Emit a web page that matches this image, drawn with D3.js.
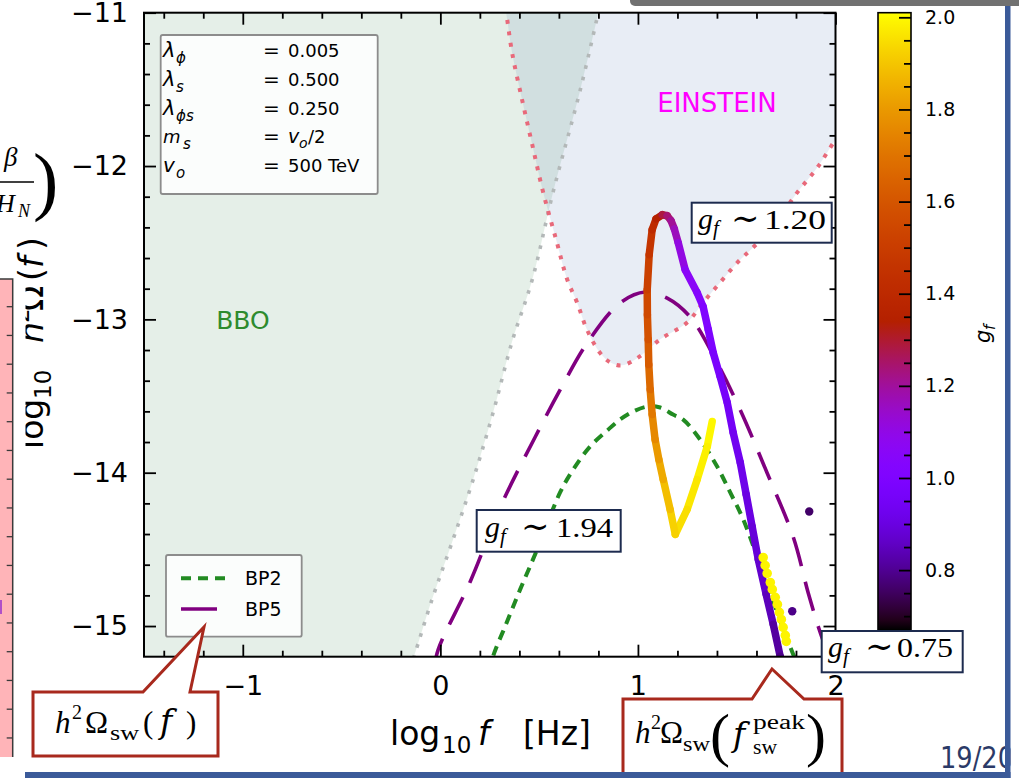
<!DOCTYPE html>
<html>
<head>
<meta charset="utf-8">
<script src="https://cdn.jsdelivr.net/npm/d3@7"></script>
<style>
  html, body { margin: 0; padding: 0; background: #ffffff; }
  svg { display: block; }
</style>
</head>
<body>
<svg id="chart" width="1019" height="778"></svg>
<script>
// ---------------- data ----------------
const xTickValues = [-1, 0, 1, 2];
const yTickValues = [-15, -14, -13, -12, -11];
const gfTickValues = [0.8, 1.0, 1.2, 1.4, 1.6, 1.8, 2.0];

// BBO sensitivity boundary (log10 f, log10 h^2 Omega)
const bboLogF     = [0.815, 0.799, 0.708, 0.571, 0.465, 0.363, 0.267, 0.166, 0.059, -0.042, -0.133, -0.16];
const bboLogOmega = [-10.9, -11.0, -11.504, -12.168, -12.741, -13.145, -13.608, -14.045, -14.455, -14.826, -15.197, -15.3];

// Einstein Telescope sensitivity boundary
const etLogF     = [0.318, 0.333, 0.363, 0.414, 0.465, 0.520, 0.586, 0.642, 0.692, 0.743, 0.809, 0.859, 0.920, 1.011, 1.113, 1.249, 1.330, 1.416, 1.503, 1.584, 1.685, 1.796, 1.908, 1.999, 2.03];
const etLogOmega = [-10.9, -11.0, -11.26, -11.57, -11.86, -12.17, -12.48, -12.74, -12.89, -13.07, -13.22, -13.28, -13.30, -13.24, -13.13, -13.02, -12.89, -12.76, -12.63, -12.53, -12.40, -12.19, -12.01, -11.83, -11.78];

// sound-wave spectra of the benchmark points
const bp2LogF     = [0.25, 0.267, 0.328, 0.404, 0.490, 0.606, 0.672, 0.758, 0.844, 0.910, 0.976, 1.047, 1.113, 1.178, 1.229, 1.315, 1.401, 1.467, 1.533, 1.644, 1.756, 1.806];
const bp2LogOmega = [-15.3, -15.197, -15.002, -14.761, -14.501, -14.129, -13.980, -13.829, -13.725, -13.653, -13.601, -13.569, -13.575, -13.621, -13.654, -13.784, -13.960, -14.129, -14.305, -14.696, -15.087, -15.25];
const bp5LogF     = [-0.03, -0.011, 0.151, 0.313, 0.480, 0.606, 0.743, 0.910, 1.037, 1.148, 1.265, 1.402, 1.518, 1.654, 1.786, 1.862, 1.923, 1.973, 2.02];
const bp5LogOmega = [-15.27, -15.154, -14.711, -14.197, -13.767, -13.460, -13.154, -12.893, -12.822, -12.861, -12.985, -13.285, -13.591, -14.002, -14.419, -14.784, -15.044, -15.22, -15.4];

// peak amplitude of the sound-wave signal along the g_f scan
const peakLogF = [1.376, 1.351, 1.300, 1.249, 1.189, 1.163, 1.128, 1.106, 1.087, 1.072, 1.062, 1.055, 1.052, 1.048, 1.047, 1.057, 1.072, 1.092, 1.123, 1.148, 1.168, 1.184, 1.204, 1.239, 1.300, 1.330, 1.356, 1.381, 1.416, 1.452, 1.482, 1.518, 1.548, 1.578, 1.609, 1.649, 1.685, 1.720, 1.741];
const peakLogOmega = [-13.666, -13.829, -14.044, -14.240, -14.402, -14.240, -14.044, -13.915, -13.784, -13.620, -13.458, -13.295, -13.132, -12.970, -12.807, -12.578, -12.416, -12.344, -12.318, -12.324, -12.357, -12.409, -12.500, -12.676, -12.826, -12.917, -13.067, -13.217, -13.373, -13.543, -13.738, -13.934, -14.142, -14.351, -14.565, -14.793, -14.989, -15.197, -15.31];
const peakGf = [2.00, 1.99, 1.975, 1.96, 1.94, 1.91, 1.86, 1.82, 1.78, 1.735, 1.69, 1.645, 1.60, 1.57, 1.54, 1.49, 1.44, 1.38, 1.31, 1.26, 1.22, 1.19, 1.14, 1.08, 1.04, 1.02, 1.00, 0.985, 0.97, 0.955, 0.94, 0.925, 0.91, 0.895, 0.88, 0.86, 0.83, 0.80, 0.78];

// isolated scan points
const dotLogF     = [1.634, 1.644, 1.654, 1.670, 1.680, 1.695, 1.706, 1.716, 1.726, 1.735, 1.746, 1.751, 1.867, 1.781];
const dotLogOmega = [-14.553, -14.605, -14.657, -14.716, -14.761, -14.813, -14.859, -14.911, -14.957, -15.009, -15.061, -15.100, -14.253, -14.904];
const dotGf       = [1.99, 1.99, 1.99, 1.99, 1.99, 1.99, 1.99, 1.99, 1.99, 1.99, 1.99, 1.99, 0.76, 0.79];

const legendNames = ["BP2", "BP5"];
const paramSymbols = ["λ", "λ", "λ", "m", "v"];
const paramSubs = ["ϕ", "s", "ϕs", "s", "o"];
const paramValues = ["0.005", "0.500", "0.250", "v_o/2", "500 TeV"];
const gfMarks = [{ v: "1.20" }, { v: "1.94" }, { v: "0.75" }];

// ---------------- setup ----------------
const SANS = "DejaVu Sans, sans-serif";
const SERIF = "Liberation Serif, DejaVu Serif, serif";
const svg = d3.select("#chart");
svg.append("rect").attr("width", 1019).attr("height", 778).attr("fill", "#fff");

const x = d3.scaleLinear().domain([-1.5, 2.0]).range([144, 835.5]);
const y = d3.scaleLinear().domain([-15.2, -11.0]).range([656.7, 12.7]);
const gfNorm = d3.scaleLinear().domain([0.67, 2.01]).range([0, 1]).clamp(true);

// matplotlib "gnuplot" colormap
function gnuplot(t) {
  t = Math.max(0, Math.min(1, t));
  return d3.rgb(255 * Math.sqrt(t), 255 * t * t * t, 255 * Math.max(0, Math.sin(2 * Math.PI * t))).formatHex();
}
const gfColor = g => gnuplot(gfNorm(g));

const defs = svg.append("defs");
defs.append("clipPath").attr("id", "plotClip")
  .append("rect").attr("x", 144).attr("y", 12.7).attr("width", 691.5).attr("height", 644);

const zip = (a, b) => a.map((v, i) => [v, b[i]]);
const line = d3.line().x(d => x(d[0])).y(d => y(d[1])).curve(d3.curveCatmullRom.alpha(0.5));

// ---------------- plot area ----------------
const plot = svg.append("g").attr("clip-path", "url(#plotClip)");

// detector regions
const bboPts = zip(bboLogF, bboLogOmega);
plot.append("path")
  .attr("d", line([[-1.6, -10.9], ...bboPts, [-1.6, -15.3]]) + "Z")
  .attr("fill", "rgb(39,122,63)").attr("fill-opacity", 0.12);
const etPts = zip(etLogF, etLogOmega);
plot.append("path")
  .attr("d", line(etPts) + "L" + x(2.03) + "," + y(-10.9) + "Z")
  .attr("fill", "rgb(63,105,172)").attr("fill-opacity", 0.12);

plot.append("path").attr("d", line(bboPts))
  .attr("fill", "none").attr("stroke", "#b3b8b8").attr("stroke-width", 3.6)
  .attr("stroke-dasharray", "3.6 8");
plot.append("path").attr("d", line(etPts))
  .attr("fill", "none").attr("stroke", "#e8697a").attr("stroke-width", 4)
  .attr("stroke-dasharray", "4 7.5");

plot.append("text").attr("x", 243).attr("y", 329).attr("text-anchor", "middle")
  .attr("font-family", SANS).attr("font-size", 25).attr("fill", "#2e8b2e").text("BBO");
plot.append("text").attr("x", 717).attr("y", 112).attr("text-anchor", "middle")
  .attr("font-family", SANS).attr("font-size", 26).attr("fill", "#ff00ff").text("EINSTEIN");

// benchmark spectra
plot.append("path").attr("d", line(zip(bp2LogF, bp2LogOmega)))
  .attr("fill", "none").attr("stroke", "#228b22").attr("stroke-width", 4)
  .attr("stroke-dasharray", "10 7");
plot.append("path").attr("d", line(zip(bp5LogF, bp5LogOmega)))
  .attr("fill", "none").attr("stroke", "#800080").attr("stroke-width", 3.6)
  .attr("stroke-dasharray", "30 16");

// peak amplitude along the scan, coloured by g_f
const segs = d3.range(peakLogF.length - 1).map(i => ({
  x1: peakLogF[i], y1: peakLogOmega[i], x2: peakLogF[i + 1], y2: peakLogOmega[i + 1],
  g: (peakGf[i] + peakGf[i + 1]) / 2
}));
plot.append("g").selectAll("line").data(segs).join("line")
  .attr("x1", d => x(d.x1)).attr("y1", d => y(d.y1))
  .attr("x2", d => x(d.x2)).attr("y2", d => y(d.y2))
  .attr("stroke", d => gfColor(d.g)).attr("stroke-width", 7.5)
  .attr("stroke-linecap", "round");

plot.append("g").selectAll("circle").data(d3.range(dotLogF.length)).join("circle")
  .attr("cx", i => x(dotLogF[i])).attr("cy", i => y(dotLogOmega[i]))
  .attr("r", i => dotGf[i] > 1.5 ? 4.8 : 4.2)
  .attr("fill", i => gfColor(dotGf[i]));

// ---------------- text helper ----------------
function pieces(parent, list) {
  list.forEach(p => {
    const t = parent.append("text")
      .attr("x", p.x).attr("y", p.y)
      .attr("font-family", p.ff || SERIF)
      .attr("font-size", p.s)
      .attr("font-style", p.i ? "italic" : "normal")
      .attr("fill", p.c || "#000")
      .text(p.t);
    if (p.len) t.attr("textLength", p.len).attr("lengthAdjust", "spacingAndGlyphs");
  });
}

// ---------------- parameter box ----------------
const pbox = svg.append("g");
pbox.append("rect").attr("x", 160.7).attr("y", 35).attr("width", 217).attr("height", 159)
  .attr("rx", 2).attr("fill", "#fff").attr("fill-opacity", 0.85)
  .attr("stroke", "#8c8c8c").attr("stroke-width", 1.8);
const pBase = [57, 86, 115, 143, 172];
const symSize = [21, 21, 21, 18, 20];
const subX = [176, 176, 176, 183, 176];
paramSymbols.forEach((s, i) => {
  const b = pBase[i];
  pieces(pbox, [
    { t: s, x: 163, y: b, s: symSize[i], i: true, ff: SANS },
    { t: paramSubs[i], x: subX[i], y: b + 6, s: 15, i: true, ff: SANS },
    { t: "=", x: 263, y: b, s: 20, ff: SANS }
  ]);
  const v = paramValues[i];
  if (v === "v_o/2") {
    pieces(pbox, [
      { t: "v", x: 288, y: b, s: 19, i: true, ff: SANS },
      { t: "o", x: 299, y: b + 5, s: 14, i: true, ff: SANS },
      { t: "/2", x: 308, y: b, s: 18, ff: SANS }
    ]);
  } else {
    pieces(pbox, [{ t: v, x: 288, y: b, s: 18, ff: SANS }]);
  }
});

// ---------------- legend ----------------
const leg = svg.append("g");
leg.append("rect").attr("x", 166).attr("y", 555).attr("width", 135.7).attr("height", 81.7)
  .attr("rx", 2).attr("fill", "#fff").attr("fill-opacity", 0.85)
  .attr("stroke", "#8c8c8c").attr("stroke-width", 1.8);
leg.append("line").attr("x1", 181).attr("x2", 225).attr("y1", 578.3).attr("y2", 578.3)
  .attr("stroke", "#228b22").attr("stroke-width", 4).attr("stroke-dasharray", "10 7");
leg.append("line").attr("x1", 181).attr("x2", 217).attr("y1", 609).attr("y2", 609)
  .attr("stroke", "#800080").attr("stroke-width", 3.6);
legendNames.forEach((n, i) => {
  leg.append("text").attr("x", 245).attr("y", [585.4, 616][i])
    .attr("font-family", SANS).attr("font-size", 19).attr("fill", "#000").text(n);
});

// ---------------- axes ----------------
function styleAxis(g) {
  g.select(".domain").remove();
  g.selectAll(".tick line").attr("stroke", "#000").attr("stroke-width", 1.8);
  g.attr("font-family", SANS).attr("font-size", 27);
  g.selectAll("text").attr("fill", "#000");
  return g;
}
const minorX = d3.range(-14, 21, 2).map(v => v / 10).filter(v => Math.abs(v - Math.round(v)) > 1e-6);
const minorY = d3.range(-148, -109, 2).map(v => v / 10).filter(v => Math.abs(v - Math.round(v)) > 1e-6);
const fmt = d3.format("d");

styleAxis(svg.append("g").attr("transform", "translate(0,656.7)")
  .call(d3.axisBottom(x).tickValues(xTickValues).tickSizeInner(-12).tickSizeOuter(0).tickPadding(19).tickFormat(fmt)));
styleAxis(svg.append("g").attr("transform", "translate(0,656.7)")
  .call(d3.axisBottom(x).tickValues(minorX).tickSizeInner(-6).tickSizeOuter(0).tickFormat("")));
styleAxis(svg.append("g").attr("transform", "translate(0,12.7)")
  .call(d3.axisTop(x).tickValues(xTickValues).tickSizeInner(-12).tickSizeOuter(0).tickFormat("")));
styleAxis(svg.append("g").attr("transform", "translate(0,12.7)")
  .call(d3.axisTop(x).tickValues(minorX).tickSizeInner(-6).tickSizeOuter(0).tickFormat("")));
styleAxis(svg.append("g").attr("transform", "translate(144,0)")
  .call(d3.axisLeft(y).tickValues(yTickValues).tickSizeInner(-12).tickSizeOuter(0).tickPadding(16).tickFormat(fmt)));
styleAxis(svg.append("g").attr("transform", "translate(144,0)")
  .call(d3.axisLeft(y).tickValues(minorY).tickSizeInner(-6).tickSizeOuter(0).tickFormat("")));
styleAxis(svg.append("g").attr("transform", "translate(835.5,0)")
  .call(d3.axisRight(y).tickValues(yTickValues).tickSizeInner(-12).tickSizeOuter(0).tickFormat("")));
styleAxis(svg.append("g").attr("transform", "translate(835.5,0)")
  .call(d3.axisRight(y).tickValues(minorY).tickSizeInner(-6).tickSizeOuter(0).tickFormat("")));

svg.append("rect").attr("x", 144).attr("y", 12.7).attr("width", 691.5).attr("height", 644)
  .attr("fill", "none").attr("stroke", "#000").attr("stroke-width", 2);

// ---------------- g_f annotations ----------------
const boxes = [
  { x: 691.7, y: 202.7, w: 140, h: 40, gx: 698, tx: 731, vx: 764, vlen: 62, b: 229 },
  { x: 476.7, y: 510, w: 144, h: 41.7, gx: 485, tx: 521, vx: 556, vlen: 57, b: 536.7 },
  { x: 821.7, y: 631, w: 141, h: 41.3, gx: 828, tx: 865, vx: 897, vlen: 56, b: 656.7 }
];

// ---------------- colour bar ----------------
const cbY = d3.scaleLinear().domain([0.67, 2.01]).range([630, 12.7]);
const grad = defs.append("linearGradient").attr("id", "cbGrad")
  .attr("x1", 0).attr("y1", 1).attr("x2", 0).attr("y2", 0);
d3.range(0, 65).forEach(i => {
  grad.append("stop").attr("offset", i / 64).attr("stop-color", gnuplot(i / 64));
});
svg.append("rect").attr("x", 878).attr("y", 12.7).attr("width", 33).attr("height", 617.3)
  .attr("fill", "url(#cbGrad)");
const cbMinor = d3.range(70, 201, 5).map(v => v / 100)
  .filter(v => !gfTickValues.some(t => Math.abs(t - v) < 1e-6));
const cbAxis = svg.append("g").attr("transform", "translate(911,0)")
  .call(d3.axisRight(cbY).tickValues(gfTickValues).tickSizeInner(-12).tickSizeOuter(0).tickPadding(14).tickFormat(d3.format(".1f")));
styleAxis(cbAxis).attr("font-size", 19);
styleAxis(svg.append("g").attr("transform", "translate(911,0)")
  .call(d3.axisRight(cbY).tickValues(cbMinor).tickSizeInner(-7).tickSizeOuter(0).tickFormat("")));
svg.append("rect").attr("x", 878).attr("y", 12.7).attr("width", 33).attr("height", 617.3)
  .attr("fill", "none").attr("stroke", "#000").attr("stroke-width", 1.6);
const cbLab = svg.append("g").attr("transform", "translate(990,335) rotate(-90)");
pieces(cbLab, [
  { t: "g", x: -8, y: 0, s: 21, i: true, ff: SANS },
  { t: "f", x: 5, y: 5, s: 15, i: true, ff: SANS }
]);

boxes.forEach((bx, i) => {
  const g = svg.append("g");
  g.append("rect").attr("x", bx.x).attr("y", bx.y).attr("width", bx.w).attr("height", bx.h)
    .attr("fill", "#fff").attr("stroke", "#1d2b4f").attr("stroke-width", 2);
  pieces(g, [
    { t: "g", x: bx.gx, y: bx.b, s: 30, i: true },
    { t: "f", x: bx.gx + 15, y: bx.b + 6, s: 21, i: true },
    { t: "∼", x: bx.tx, y: bx.b + 1, s: 34, ff: "DejaVu Serif, serif" },
    { t: gfMarks[i].v, x: bx.vx, y: bx.b, s: 28, len: bx.vlen }
  ]);
});

// ---------------- call-outs ----------------
const callouts = svg.append("g");
callouts.append("path").attr("d", "M33,692 H143 L204,627 L190,692 H218 V756 H33 Z")
  .attr("fill", "#fff").attr("stroke", "#a8291d").attr("stroke-width", 3).attr("stroke-linejoin", "miter");
callouts.append("path").attr("d", "M623,699 H752 L772,669 L804,699 H842 V795 H623 Z")
  .attr("fill", "#fff").attr("stroke", "#a8291d").attr("stroke-width", 3).attr("stroke-linejoin", "miter");
pieces(callouts, [
  { t: "h", x: 55, y: 733, s: 31, i: true },
  { t: "2", x: 72, y: 719, s: 20 },
  { t: "Ω", x: 85, y: 733, s: 31 },
  { t: "sw", x: 110, y: 740, s: 21, len: 29 },
  { t: "(", x: 143, y: 733, s: 31 },
  { t: "f", x: 160, y: 733, s: 33, i: true, ff: "DejaVu Serif, serif" },
  { t: ")", x: 186, y: 733, s: 31 },

  { t: "h", x: 635, y: 743, s: 31, i: true },
  { t: "2", x: 651, y: 729, s: 20 },
  { t: "Ω", x: 660, y: 743, s: 31 },
  { t: "sw", x: 683, y: 751, s: 21, len: 27 },
  { t: "(", x: 710, y: 755, s: 60 },
  { t: "f", x: 733, y: 746, s: 33, i: true, ff: "DejaVu Serif, serif" },
  { t: "peak", x: 753, y: 729, s: 20, len: 52 },
  { t: "sw", x: 753, y: 754, s: 20, len: 24 },
  { t: ")", x: 806, y: 755, s: 60 }
]);

// ---------------- axis titles ----------------
pieces(svg, [
  { t: "log", x: 390, y: 745, s: 33, ff: SANS },
  { t: "10", x: 442, y: 753, s: 23, ff: SANS },
  { t: "f", x: 478, y: 745, s: 33, i: true, ff: SANS },
  { t: "[Hz]", x: 523, y: 745, s: 33, ff: SANS }
]);
const yTitle = svg.append("g").attr("transform", "translate(43,449) rotate(-90)");
pieces(yTitle, [
  { t: "log", x: 0, y: 0, s: 33, ff: SANS },
  { t: "10", x: 50, y: 8, s: 23, ff: SANS },
  { t: "h", x: 106, y: 0, s: 33, i: true, ff: SANS },
  { t: "2", x: 126, y: -14, s: 23, ff: SANS },
  { t: "Ω", x: 138, y: 0, s: 33, ff: SANS },
  { t: "(", x: 168, y: 0, s: 33, ff: SANS },
  { t: "f", x: 181, y: 0, s: 33, i: true, ff: SANS },
  { t: ")", x: 199, y: 0, s: 33, ff: SANS }
]);

// neighbouring panel on the left edge of the slide
svg.append("rect").attr("x", 0).attr("y", 279).attr("width", 25.5).attr("height", 478).attr("fill", "#fff");
svg.append("rect").attr("x", 0).attr("y", 279).attr("width", 12.7).attr("height", 478).attr("fill", "#ffb4b8");
svg.append("path").attr("d", "M0,279 H12.7 V757").attr("fill", "none").attr("stroke", "#3a3a3a").attr("stroke-width", 1.5);
svg.append("g").selectAll("line").data(d3.range(16)).join("line")
  .attr("x1", 12.7).attr("x2", 6.7)
  .attr("y1", k => 306.7 + k * 28.75).attr("y2", k => 306.7 + k * 28.75)
  .attr("stroke", "#3a3a3a").attr("stroke-width", 1.3);
svg.append("rect").attr("x", 0).attr("y", 600).attr("width", 2).attr("height", 14).attr("fill", "#b050c8");
pieces(svg, [
  { t: "β", x: 4, y: 166, s: 27, i: true },
  { t: "H", x: -4, y: 212, s: 26, i: true },
  { t: "N", x: 18, y: 217, s: 18, i: true },
  { t: ")", x: 33, y: 206, s: 76 }
]);
svg.append("line").attr("x1", 0).attr("x2", 34).attr("y1", 182).attr("y2", 182)
  .attr("stroke", "#000").attr("stroke-width", 1.4);

// ---------------- slide frame ----------------
svg.append("text").attr("x", 940).attr("y", 768).attr("font-family", SANS).attr("font-size", 31)
  .attr("textLength", 74).attr("lengthAdjust", "spacingAndGlyphs")
  .attr("fill", "#2b3a67").text("19/20");
svg.append("rect").attr("x", 1010.5).attr("y", 0).attr("width", 9).attr("height", 778).attr("fill", "#fff");
svg.append("rect").attr("x", 1005).attr("y", 0).attr("width", 5.5).attr("height", 778).attr("fill", "#3b5a99");
svg.append("rect").attr("x", 25).attr("y", 772).attr("width", 985.5).attr("height", 6).attr("fill", "#3b5a99");
svg.append("rect").attr("x", 630).attr("y", -6).attr("width", 400).attr("height", 12).attr("rx", 5)
  .attr("fill", "#717171");
</script>
</body>
</html>
